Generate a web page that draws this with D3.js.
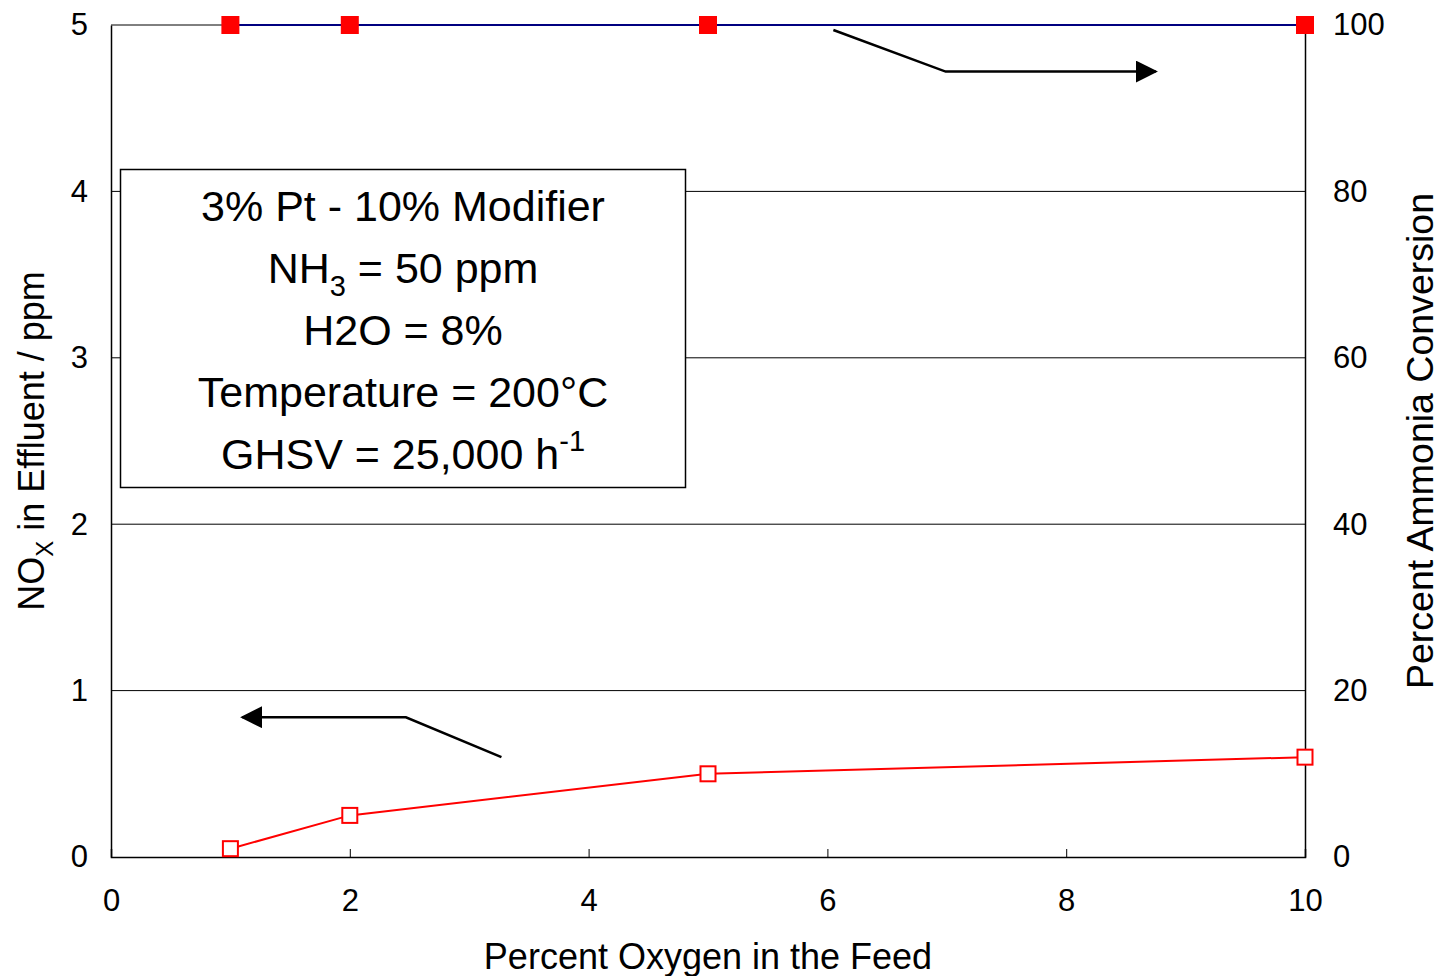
<!DOCTYPE html>
<html>
<head>
<meta charset="utf-8">
<script src="https://cdn.jsdelivr.net/npm/d3@7"></script>
<style>
  html, body { margin: 0; padding: 0; background: #fff; }
  svg { display: block; font-family: "Liberation Sans", Arial, sans-serif; }
</style>
</head>
<body>
<svg id="chart" width="1441" height="976"></svg>
<script>
// Percent O2 in feed
const oxygen = [1, 2, 5, 10];
// NOx in effluent (ppm), left axis
const noxPpm = [0.05, 0.25, 0.5, 0.6];
// NH3 conversion (%), right axis
const nh3Conversion = [100, 100, 100, 100];

const xTicks = [0, 2, 4, 6, 8, 10];
const yLeftTicks = [0, 1, 2, 3, 4, 5];
const yRightTicks = [0, 20, 40, 60, 80, 100];

const conditions = [
  [{t: "3% Pt - 10% Modifier"}],
  [{t: "NH"}, {t: "3", sub: true}, {t: " = 50 ppm"}],
  [{t: "H2O = 8%"}],
  [{t: "Temperature = 200°C"}],
  [{t: "GHSV = 25,000 h"}, {t: "-1", sup: true}]
];

const FONT = "Liberation Sans, Arial, sans-serif";
const svg = d3.select("#chart");
const m = {left: 111, right: 1305, top: 25, bottom: 857};

const x = d3.scaleLinear().domain([0, 10]).range([m.left, m.right]);
const yL = d3.scaleLinear().domain([0, 5]).range([m.bottom, m.top]);
const yR = d3.scaleLinear().domain([0, 100]).range([m.bottom, m.top]);

// horizontal gridlines
svg.append("g").selectAll("line").data(yLeftTicks.filter(d => d > 0)).join("line")
  .attr("x1", m.left).attr("x2", m.right)
  .attr("y1", d => yL(d)).attr("y2", d => yL(d))
  .attr("stroke", "#000").attr("stroke-width", 1);

// bottom axis with inward ticks
const xAxis = d3.axisBottom(x).tickValues(xTicks).tickSize(-8).tickPadding(32).tickFormat(d3.format("d"));
const gx = svg.append("g").attr("transform", `translate(0,${m.bottom})`).call(xAxis);
gx.select(".domain").attr("stroke", "#000").attr("stroke-width", 1.5);
gx.selectAll("text").attr("font-size", 31).attr("fill", "#000").attr("font-family", FONT);

// left axis
const yAxisL = d3.axisLeft(yL).tickValues(yLeftTicks).tickSize(0).tickPadding(23).tickFormat(d3.format("d"));
const gyl = svg.append("g").attr("transform", `translate(${m.left},0)`).call(yAxisL);
gyl.select(".domain").attr("stroke", "#000").attr("stroke-width", 1.5);
gyl.selectAll("text").attr("font-size", 31).attr("fill", "#000").attr("font-family", FONT);

// right axis
const yAxisR = d3.axisRight(yR).tickValues(yRightTicks).tickSize(0).tickPadding(28).tickFormat(d3.format("d"));
const gyr = svg.append("g").attr("transform", `translate(${m.right},0)`).call(yAxisR);
gyr.select(".domain").attr("stroke", "#000").attr("stroke-width", 1.5);
gyr.selectAll("text").attr("font-size", 31).attr("fill", "#000").attr("font-family", FONT);

// axis titles
svg.append("text").attr("x", (m.left + m.right) / 2).attr("y", 969)
  .attr("text-anchor", "middle").attr("font-size", 36).text("Percent Oxygen in the Feed");

const lt = svg.append("text").attr("transform", "translate(44,441) rotate(-90)")
  .attr("text-anchor", "middle").attr("font-size", 36);
lt.append("tspan").text("NO");
lt.append("tspan").attr("font-size", 24).attr("dy", 9).text("X");
lt.append("tspan").attr("dy", -9).text(" in Effluent / ppm");

svg.append("text").attr("transform", "translate(1433,441) rotate(-90)")
  .attr("text-anchor", "middle").attr("font-size", 37.5).text("Percent Ammonia Conversion");

// conversion series (right axis)
svg.append("path").datum(oxygen.map((o, i) => [o, nh3Conversion[i]]))
  .attr("fill", "none").attr("stroke", "#000080").attr("stroke-width", 2)
  .attr("d", d3.line().x(d => x(d[0])).y(d => yR(d[1])));
svg.append("g").selectAll("rect").data(oxygen.map((o, i) => [o, nh3Conversion[i]])).join("rect")
  .attr("x", d => x(d[0]) - 9).attr("y", d => yR(d[1]) - 9)
  .attr("width", 18).attr("height", 18).attr("fill", "#ff0000");

// NOx series (left axis)
svg.append("path").datum(oxygen.map((o, i) => [o, noxPpm[i]]))
  .attr("fill", "none").attr("stroke", "#ff0000").attr("stroke-width", 2)
  .attr("d", d3.line().x(d => x(d[0])).y(d => yL(d[1])));
svg.append("g").selectAll("rect").data(oxygen.map((o, i) => [o, noxPpm[i]])).join("rect")
  .attr("x", d => x(d[0]) - 7.5).attr("y", d => yL(d[1]) - 7.5)
  .attr("width", 15).attr("height", 15).attr("fill", "#fff")
  .attr("stroke", "#ff0000").attr("stroke-width", 2);

// pointer arrows linking each series to its axis
const defs = svg.append("defs");
defs.append("marker").attr("id", "head").attr("viewBox", "0 0 10 10")
  .attr("refX", 9).attr("refY", 5).attr("markerWidth", 22).attr("markerHeight", 22)
  .attr("markerUnits", "userSpaceOnUse").attr("orient", "auto")
  .append("path").attr("d", "M0,0 L10,5 L0,10 Z").attr("fill", "#000");

const arrow = d3.line();
svg.append("path").attr("d", arrow([[x(6.05), yL(4.97)], [x(6.99), yL(4.72)], [x(8.75), yL(4.72)]]))
  .attr("fill", "none").attr("stroke", "#000").attr("stroke-width", 2.5).attr("marker-end", "url(#head)");
svg.append("path").attr("d", arrow([[x(3.27), yL(0.6)], [x(2.47), yL(0.84)], [x(1.1), yL(0.84)]]))
  .attr("fill", "none").attr("stroke", "#000").attr("stroke-width", 2.5).attr("marker-end", "url(#head)");

// conditions box
svg.append("rect").attr("x", 120.5).attr("y", 169.5).attr("width", 565).attr("height", 318)
  .attr("fill", "#fff").attr("stroke", "#000").attr("stroke-width", 1.5);
const cx = 403;
conditions.forEach((line, i) => {
  const t = svg.append("text").attr("x", cx).attr("y", 221 + i * 62)
    .attr("text-anchor", "middle").attr("font-size", 43);
  line.forEach((p, j) => {
    if (p.sub) {
      t.append("tspan").attr("font-size", 29).attr("dy", 13).text(p.t);
    } else if (p.sup) {
      t.append("tspan").attr("font-size", 29).attr("dy", -18).text(p.t);
    } else {
      const s = t.append("tspan").text(p.t);
      if (j > 0 && line[j - 1].sub) s.attr("dy", -13);
    }
  });
});
</script>
</body>
</html>
